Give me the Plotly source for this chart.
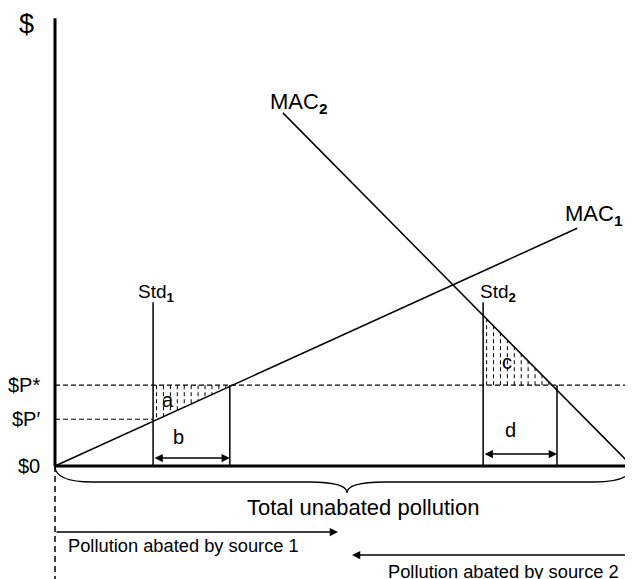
import plotly.graph_objects as go

# ---------------- data (diagram units) ----------------
total_pollution = 100.0
std1 = 17.0          # standard for source 1
q1 = 30.3            # source 1 abatement where MAC1 = P*
std2 = 74.2          # standard for source 2
q2 = 87.0            # source 2 abatement where MAC2 = P*
p_star = 14.0
p_prime = 8.1
std_top = 28.4
y_axis_top = 77.6

mac1_x = [0.0, 90.5]
mac1_y = [0.0, 41.2]
mac2_x = [39.5, 100.0]
mac2_y = [61.2, 0.0]

price_labels = ["$P*", "$P\u2032", "$0"]
price_values = [p_star, p_prime, 0.0]

# ---------------- pixel mapping for layout ----------------
W, H = 633, 579          # browser window
OFF = 8                  # default page margin around the plot div
X0_PX, Y0_PX, PX_PER_UNIT = 55.0, 466.0, 5.77
def px2x(px):
    return (px - X0_PX) / PX_PER_UNIT
def px2y(py):
    return (Y0_PX - py) / PX_PER_UNIT

def mac1(x):
    s = (mac1_y[1] - mac1_y[0]) / (mac1_x[1] - mac1_x[0])
    return mac1_y[0] + s * (x - mac1_x[0])
def mac2(x):
    s = (mac2_y[1] - mac2_y[0]) / (mac2_x[1] - mac2_x[0])
    return mac2_y[0] + s * (x - mac2_x[0])

FONT = "Liberation Sans, Arial, sans-serif"
fig = go.Figure()

def line(xs, ys, width=1.5, dash=None, color="black"):
    fig.add_trace(go.Scatter(x=xs, y=ys, mode="lines", hoverinfo="skip",
                             line=dict(color=color, width=width, dash=dash),
                             showlegend=False))

# hatching in triangles a and c
spacing = 1.2
hx, hy = [], []
x = std1 + 0.6
while x < q1 - 0.3:
    hx += [x, x, None]
    hy += [p_star, mac1(x), None]
    x += spacing
x = std2 + 0.6
while x < q2 - 0.3:
    hx += [x, x, None]
    hy += [p_star, mac2(x), None]
    x += spacing
line(hx, hy, width=1.0, dash="4px,3px")

# dashed price lines
line([0, total_pollution], [p_star, p_star], width=1.2, dash="5px,3px")
line([0, std1], [p_prime, p_prime], width=1.2, dash="5px,3px")

# MAC curves
line(mac1_x, mac1_y, width=1.5)
line(mac2_x, mac2_y, width=1.5)

# standards and equal-price quantities
line([std1, std1], [0, std_top])
line([std2, std2], [0, std_top])
line([q1, q1], [0, p_star])
line([q2, q2], [0, p_star])

# axes
line([0, 0], [0, y_axis_top], width=3)
line([0, total_pollution], [0, 0], width=3)
line([0, 0], [0, px2y(H + 2)], width=1.5, dash="6px,4px")

# brace under x axis
by_flat = px2y(482)
by_tip = px2y(493)
bmid = px2x(347)
r = 6.5
brace = (f"M {0},{0} Q {0},{by_flat} {r},{by_flat} "
         f"L {bmid - r},{by_flat} Q {bmid},{by_flat} {bmid},{by_tip} "
         f"Q {bmid},{by_flat} {bmid + r},{by_flat} "
         f"L {total_pollution - r},{by_flat} Q {total_pollution},{by_flat} {total_pollution},{0}")
fig.add_shape(type="path", path=brace, xref="x", yref="y",
              line=dict(color="black", width=1.3))

anns = []
def arrow(xh, yh, xt, yt, both=False):
    anns.append(dict(x=xh, y=yh, ax=xt, ay=yt, xref="x", yref="y", axref="x", ayref="y",
                     text="", showarrow=True, arrowhead=2, arrowsize=1.1, arrowwidth=1.5,
                     arrowcolor="black", arrowside="end+start" if both else "end",
                     standoff=0, startstandoff=0, startarrowhead=2, startarrowsize=1.1))
def text(t, xpx, ypx, size, anchor="center"):
    anns.append(dict(x=px2x(xpx), y=px2y(ypx), xref="x", yref="y", text=t, showarrow=False,
                     xanchor=anchor, yanchor="middle",
                     font=dict(family=FONT, size=size, color="black")))

# b and d arrows
arrow(q1, px2y(458), std1, px2y(458), both=True)
arrow(q2, px2y(454), std2, px2y(454), both=True)
# source arrows
arrow(px2x(338), px2y(532), 0, px2y(532))
arrow(px2x(352), px2y(555), total_pollution, px2y(555))

# price labels
for lab, v in zip(price_labels, price_values):
    anns.append(dict(x=px2x(42), y=v, xref="x", yref="y", text=lab, showarrow=False,
                     xanchor="right", yanchor="middle",
                     font=dict(family=FONT, size=20, color="black")))

text("$", 26, 24, 27)
text("MAC<sub><b>2</b></sub>", 298, 103, 22)
text("MAC<sub><b>1</b></sub>", 594, 215, 22)
text("Std<sub><b>1</b></sub>", 156, 293, 19)
text("Std<sub><b>2</b></sub>", 498, 293, 19)
text("a", 168, 400, 20)
text("b", 178, 437, 20)
text("c", 507, 362, 20)
text("d", 510, 430, 20)
text("Total unabated pollution", 363, 507, 22)
text("Pollution abated by source 1", 66, 545, 18.3, anchor="left")
text("Pollution abated by source 2", 621, 571, 18.3, anchor="right")

fig.update_layout(
    width=W - OFF, height=H - OFF, margin=dict(l=0, r=0, t=0, b=0),
    paper_bgcolor="white", plot_bgcolor="white",
    xaxis=dict(range=[px2x(OFF), px2x(W)], visible=False, fixedrange=True),
    yaxis=dict(range=[px2y(H), px2y(OFF)], visible=False, fixedrange=True),
    annotations=anns, showlegend=False,
)
fig.write_html("out.html")
